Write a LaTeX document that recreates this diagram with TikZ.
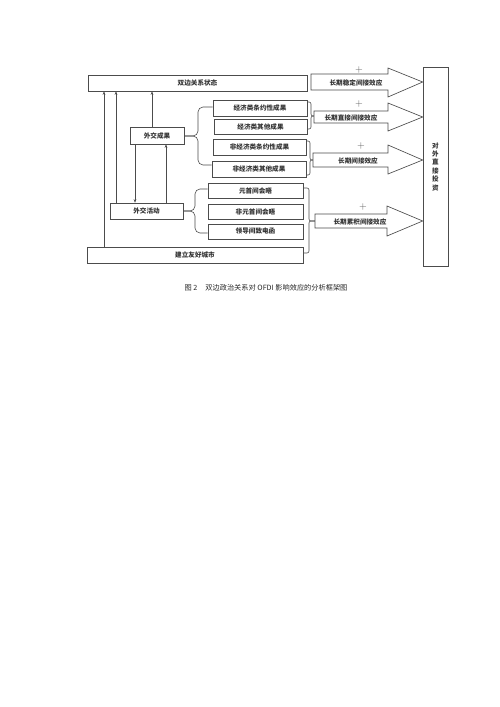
\documentclass[tikz,border=0pt]{standalone}
\usepackage{fontspec}
\newfontfamily\cjk{Noto Sans CJK SC}
\usetikzlibrary{arrows.meta}
\begin{document}
\begin{tikzpicture}[x=1pt,y=-1pt,
  box/.style={draw=black!70, line width=0.65pt, fill=white, inner sep=0pt,
    font=\cjk\bfseries\fontsize{6.6}{8}\selectfont, text=black!80},
  vbox/.style={box, align=center, font=\cjk\bfseries\fontsize{6.6}{8.4}\selectfont},
  link/.style={draw=black!70, line width=0.5pt, -{Stealth[length=3.5pt,width=2.6pt]}},
  brc/.style={draw=black!70, line width=0.6pt, rounded corners=2pt},
  lbrc/.style={draw=black!70, line width=0.6pt, rounded corners=5pt},
  bigarr/.style={draw=black!70, line width=0.65pt, fill=white},
  lbl/.style={font=\cjk\bfseries\fontsize{6.6}{8}\selectfont, text=black!80, inner sep=0pt},
  plus/.style={font=\fontsize{10}{10}\selectfont, text=black!65, inner sep=0pt}]
\fill[white] (0,0) rectangle (500,707);
\useasboundingbox (0,0) rectangle (500,707);

% column coordinates
\coordinate (c104) at (104,0);
\coordinate (c116) at (116,0);
\coordinate (c135) at (135,0);
\coordinate (c152) at (152,0);
\coordinate (c166) at (166,0);

% boxes
\node[box, minimum width=219pt, minimum height=16pt] (sbgx) at (197.5,83) {双边关系状态};
\node[box, minimum width=94pt, minimum height=16pt] (jjty) at (260,108) {经济类条约性成果};
\node[box, minimum width=93pt, minimum height=15pt] (jjqt) at (260.5,126.5) {经济类其他成果};
\node[box, minimum width=93pt, minimum height=16pt] (fjty) at (259.5,147) {非经济类条约性成果};
\node[box, minimum width=94pt, minimum height=16pt] (fjqt) at (259,169) {非经济类其他成果};
\node[box, minimum width=54pt, minimum height=17pt] (wjcg) at (157,135.5) {外交成果};
\node[box, minimum width=73pt, minimum height=16pt] (wjhd) at (146.5,211) {外交活动};
\node[box, minimum width=95pt, minimum height=15pt] (yshw) at (255.5,190.5) {元首间会晤};
\node[box, minimum width=95pt, minimum height=15pt] (fyshw) at (255.5,211.5) {非元首间会晤};
\node[box, minimum width=95pt, minimum height=15pt] (ldjd) at (255.5,231.5) {领导间致电函};
\node[box, minimum width=216pt, minimum height=16pt] (jlyh) at (195,255) {建立友好城市};
\node[vbox, minimum width=25pt, minimum height=199pt] (dwtz) at (435.5,166.5) {对\\外\\直\\接\\投\\资};

% vertical links
\draw[link] (jlyh.north -| c104) -- (sbgx.south -| c104);
\draw[link] (wjhd.north -| c116) -- (sbgx.south -| c116);
\draw[link] (wjcg.north -| c152) -- (sbgx.south -| c152);
\draw[link] (wjcg.south -| c135) -- (wjhd.north -| c135);
\draw[link] (wjhd.north -| c166) -- (wjcg.south -| c166);

% left braces
\draw[lbrc] (jjty.west |- 0,107) -- (198,107) -- (198,136) -- (wjcg.east |- 0,136);
\draw[lbrc] (fjqt.west |- 0,165) -- (198,165) -- (198,136) -- (wjcg.east |- 0,136);
\draw[lbrc] (yshw.west |- 0,189) -- (195,189) -- (195,211) -- (wjhd.east |- 0,211);
\draw[lbrc] (ldjd.west |- 0,233) -- (195,233) -- (195,211) -- (wjhd.east |- 0,211);

% right braces
\draw[brc] (jjty.east |- 0,102) -- (311,102) -- (311,116) -- (314,116);
\draw[brc] (jjqt.east |- 0,129) -- (311,129) -- (311,116) -- (314,116);
\draw[brc] (fjty.east |- 0,141) -- (310,141) -- (310,160) -- (313,160);
\draw[brc] (fjqt.east |- 0,175) -- (310,175) -- (310,160) -- (313,160);
\draw[brc] (yshw.east |- 0,188) -- (309,188) -- (309,221) -- (315,221);
\draw[brc] (jlyh.east |- 0,253) -- (309,253) -- (309,221) -- (315,221);

% big arrows
\draw[bigarr] (311,74) -- (388,74) -- (388,68) -- (dwtz.west |- 0,82) -- (388,97) -- (388,90) -- (311,90) -- cycle;
\node[lbl] (e1) at (356,83) {长期稳定间接效应};
\node[plus] (p1) at (359,70) {+};

\draw[bigarr] (314,111) -- (388,111) -- (388,103) -- (dwtz.west |- 0,117) -- (388,131) -- (388,123) -- (314,123) -- cycle;
\node[lbl] (e2) at (351,117.5) {长期直接间接效应};
\node[plus] (p2) at (359,104) {+};

\draw[bigarr] (313,153) -- (388,153) -- (388,145) -- (dwtz.west |- 0,160) -- (388,174) -- (388,167) -- (313,167) -- cycle;
\node[lbl] (e3) at (358,160.5) {长期间接效应};
\node[plus] (p3) at (361,146) {+};

\draw[bigarr] (315,214) -- (387,214) -- (387,206) -- (dwtz.west |- 0,221) -- (387,236) -- (387,228) -- (315,228) -- cycle;
\node[lbl] (e4) at (360,221.5) {长期累积间接效应};
\node[plus] (p4) at (363,207) {+};

% caption
\node[font=\cjk\fontsize{7.2}{8}\selectfont, text=black!85, inner sep=0pt] (cap) at (266,288) {图 2\hspace{8pt}双边政治关系对 OFDI 影响效应的分析框架图};
\end{tikzpicture}
\end{document}
